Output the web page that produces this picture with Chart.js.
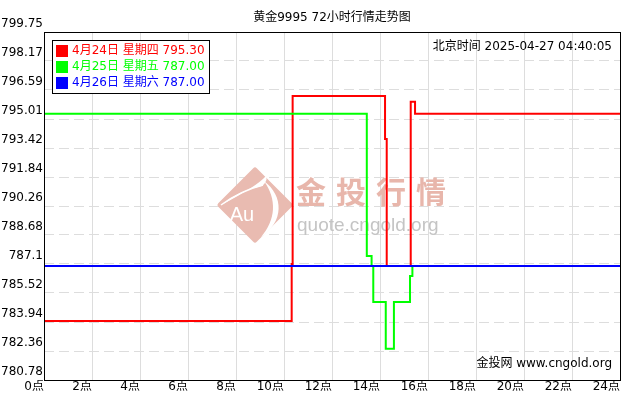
<!DOCTYPE html>
<html><head><meta charset="utf-8">
<script src="https://cdn.jsdelivr.net/npm/chart.js@4"></script>
<style>html,body{margin:0;padding:0;background:#fff}#wrap{width:630px;height:400px}</style>
</head><body><div id="wrap"><canvas id="c" width="630" height="400"></canvas></div>
<script>
const titleText = '黄金9995 72小时行情走势图';
const timeText = '北京时间 2025-04-27 04:40:05';
const sourceText = '金投网 www.cngold.org';
const seriesNames = ['4月24日 星期四', '4月25日 星期五', '4月26日 星期六'];
const seriesColors = ['#ff0000', '#00ff00', '#0000ff'];

// hours of change points (step-before) and values
const redHours   = [0, 10.32, 10.36, 14.21, 14.28, 15.28, 15.46, 24];
const redValues  = [784.00, 787.10, 796.26, 793.92, 787.00, 795.95, 795.30, 795.30];
const greenHours  = [0, 13.45, 13.65, 13.72, 14.24, 14.58, 15.25, 15.35, 24];
const greenValues = [795.30, 787.54, 787.00, 785.03, 782.49, 785.03, 786.45, 787.00, 787.00];
const blueHours  = [0, 24];
const blueValues = [787.00, 787.00];

const yMin = 780.78, yMax = 799.75;
const yTickLabels = ['780.78','782.36','783.94','785.52','787.1','788.68','790.26','791.84','793.42','795.01','796.59','798.17','799.75'];
const xTickValues = [0,2,4,6,8,10,12,14,16,18,20,22,24];
const xTickLabels = ['0点','2点','4点','6点','8点','10点','12点','14点','16点','18点','20点','22点','24点'];

const FONT = "'DejaVu Sans', 'Noto Sans CJK SC', sans-serif";
const CJK = "'Noto Sans CJK SC', 'DejaVu Sans', sans-serif";

function pts(h, v){ return h.map((x,i)=>({x:x, y:v[i]})); }
const allValues = [redValues, greenValues, blueValues];

const decor = {
  id: 'decor',
  beforeDatasetsDraw(chart){
    const ctx = chart.ctx;
    ctx.save();
    // diamond logo
    ctx.fillStyle = '#e9bbb1';
    ctx.strokeStyle = '#e9bbb1';
    ctx.lineJoin = 'round';
    ctx.lineWidth = 5;
    ctx.beginPath();
    ctx.moveTo(255,170); ctx.lineTo(290,205); ctx.lineTo(255,240); ctx.lineTo(220,205); ctx.closePath();
    ctx.fill(); ctx.stroke();
    // white swoosh
    ctx.strokeStyle = '#ffffff';
    ctx.fillStyle = '#ffffff';
    ctx.beginPath();
    ctx.moveTo(221,205);
    ctx.quadraticCurveTo(240,190, 262,186);
    ctx.quadraticCurveTo(268,181, 266,176);
    ctx.quadraticCurveTo(256,187, 221,205);
    ctx.fill();
    ctx.lineWidth = 1.5;
    ctx.beginPath();
    ctx.moveTo(221,205); ctx.quadraticCurveTo(240,191, 263,185);
    ctx.stroke();
    ctx.beginPath();
    ctx.moveTo(264,181);
    ctx.bezierCurveTo(284,196, 284,222, 261,237);
    ctx.bezierCurveTo(276,220, 277,199, 264,181);
    ctx.fill();
    ctx.font = "20px 'Liberation Sans', sans-serif";
    ctx.textAlign = 'center'; ctx.textBaseline = 'middle';
    ctx.fillText('Au', 242, 215);
    // 金投行情
    ctx.fillStyle = '#e8b6ab';
    ctx.font = 'bold 30px ' + CJK;
    ctx.textAlign = 'left';
    const wm = '金投行情';
    for (let i = 0; i < wm.length; i++) ctx.fillText(wm[i], 296 + i*40, 192);
    ctx.fillStyle = '#c4c4c4';
    ctx.font = "19px 'Liberation Sans', sans-serif";
    ctx.textBaseline = 'alphabetic';
    ctx.fillText('quote.cngold.org', 297, 231);
    ctx.restore();
  },
  afterDatasetsDraw(chart){
    const ctx = chart.ctx, a = chart.chartArea;
    ctx.save();
    ctx.strokeStyle = '#000'; ctx.lineWidth = 1;
    const L = Math.floor(a.left), T = Math.floor(a.top), R = Math.floor(a.right), B = Math.floor(a.bottom);
    ctx.strokeRect(L+0.5, T+0.5, R-L, B-T);
    // title
    ctx.fillStyle = '#000';
    ctx.font = '12px ' + FONT;
    ctx.textAlign = 'center'; ctx.textBaseline = 'middle';
    ctx.fillText(titleText, (a.left + a.right)/2, 18);
    ctx.textAlign = 'right';
    ctx.fillText(timeText, 612, 46.5);
    ctx.fillText(sourceText, 612, 363.5);
    // legend
    const labels = seriesNames.map((n,i)=> n + ' ' + allValues[i][allValues[i].length-1].toFixed(2));
    let w = 0;
    ctx.textAlign = 'left';
    labels.forEach(l=>{ w = Math.max(w, ctx.measureText(l).width); });
    const bx = 52, by = 40, bw = Math.round(20 + w + 4), bh = 53;
    ctx.fillStyle = '#fff';
    ctx.fillRect(bx, by, bw, bh);
    ctx.strokeRect(bx+0.5, by+0.5, bw, bh);
    labels.forEach((l,i)=>{
      const y = 51 + i*16;
      ctx.fillStyle = seriesColors[i];
      ctx.fillRect(56, y-6, 12, 12);
      ctx.fillText(l, 72, y);
    });
    ctx.restore();
  }
};

new Chart(document.getElementById('c'), {
  type: 'line',
  data: {
    datasets: [
      { label: seriesNames[0], data: pts(redHours, redValues), borderColor: seriesColors[0], order: 2 },
      { label: seriesNames[1], data: pts(greenHours, greenValues), borderColor: seriesColors[1], order: 1 },
      { label: seriesNames[2], data: pts(blueHours, blueValues), borderColor: seriesColors[2], order: 0 }
    ]
  },
  options: {
    responsive: false,
    animation: false,
    events: [],
    layout: { padding: { left: 0, right: 10, top: 32, bottom: 0 } },
    elements: {
      line: { borderWidth: 2, stepped: true, tension: 0, fill: false, borderJoinStyle: 'miter' },
      point: { radius: 0 }
    },
    plugins: { legend: { display: false }, title: { display: false }, tooltip: { enabled: false } },
    scales: {
      x: {
        type: 'linear', min: 0, max: 24,
        afterBuildTicks: s => { s.ticks = xTickValues.map(v=>({value:v})); },
        afterFit: s => { s.height = 20; },
        grid: { color: '#dddddd', lineWidth: 1, drawTicks: false },
        border: { display: false },
        ticks: { autoSkip: false, maxRotation: 0, minRotation: 0, padding: 0, align: 'end',
          color: '#000', font: { family: FONT, size: 12 },
          callback: (v, i) => xTickLabels[i] }
      },
      y: {
        type: 'linear', min: yMin, max: yMax,
        afterBuildTicks: s => { s.ticks = yTickLabels.map((l,i)=>({value: yMin + i*(yMax-yMin)/(yTickLabels.length-1)})); },
        afterFit: s => { s.width = 44; },
        grid: { color: '#dddddd', lineWidth: 1, drawTicks: false },
        border: { display: false, dash: [10,5] },
        ticks: { autoSkip: false, padding: 1, labelOffset: -8,
          color: '#000', font: { family: FONT, size: 12 },
          callback: (v, i) => yTickLabels[i] }
      }
    }
  },
  plugins: [decor]
});
</script></body></html>
